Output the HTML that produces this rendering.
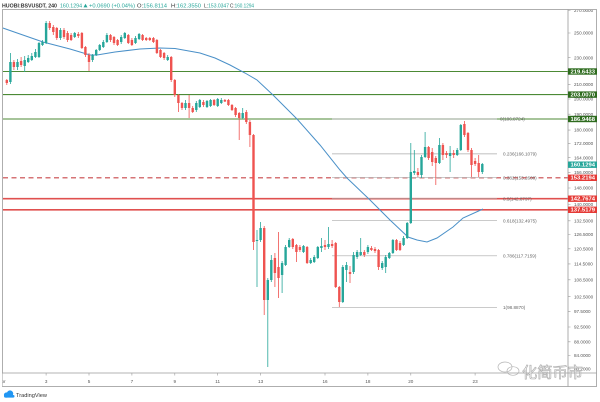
<!DOCTYPE html>
<html><head><meta charset="utf-8"><style>
html,body{margin:0;padding:0;background:#fff;}
svg{display:block;font-family:"Liberation Sans",sans-serif;}
</style></head><body>
<svg width="600" height="402" viewBox="0 0 600 402" xmlns="http://www.w3.org/2000/svg">
<defs><clipPath id="plot"><rect x="3" y="10" width="565" height="363"/></clipPath>
<clipPath id="axis"><rect x="568" y="10" width="29" height="363"/></clipPath></defs>
<rect width="600" height="402" fill="#fff"/>

<!-- header -->
<text x="2" y="7.6" font-size="5.2" font-weight="bold" fill="#333" textLength="55" lengthAdjust="spacingAndGlyphs">HUOBI:BSVUSDT, 240</text>
<text x="60" y="7.6" font-size="5.2" fill="#26a69a" textLength="22" lengthAdjust="spacingAndGlyphs">160.1294</text>
<polygon points="83.5,7.4 87.5,7.4 85.5,3.8" fill="#26a69a"/>
<text x="89" y="7.6" font-size="5.2" fill="#26a69a" textLength="46" lengthAdjust="spacingAndGlyphs">+0.0690 (+0.04%)</text>
<text x="137" y="7.6" font-size="5.2" fill="#26a69a" textLength="30" lengthAdjust="spacingAndGlyphs"><tspan fill="#333">O:</tspan>156.8114</text>
<text x="171" y="7.6" font-size="5.2" fill="#26a69a" textLength="30" lengthAdjust="spacingAndGlyphs"><tspan fill="#333">H:</tspan>162.3550</text>
<text x="204" y="7.6" font-size="5.2" fill="#26a69a" textLength="25" lengthAdjust="spacingAndGlyphs"><tspan fill="#333">L:</tspan>153.0347</text>
<text x="230" y="7.6" font-size="5.2" fill="#26a69a" textLength="24" lengthAdjust="spacingAndGlyphs"><tspan fill="#333">C:</tspan>160.1294</text>

<g clip-path="url(#plot)">
<!-- horizontal levels -->
<g stroke="#4c8a35" stroke-width="1.1">
<line x1="3" x2="568" y1="71.5" y2="71.5"/>
<line x1="3" x2="568" y1="94.6" y2="94.6"/>
<line x1="3" x2="568" y1="119" y2="119"/>
</g>
<g stroke="#e0504f" stroke-width="1.6">
<line x1="3" x2="568" y1="198.7" y2="198.7"/>
<line x1="3" x2="568" y1="209.8" y2="209.8"/>
</g>
<line x1="3" x2="568" y1="177.8" y2="177.8" stroke="#c9474a" stroke-width="1.2" stroke-dasharray="5,3.5"/>

<!-- fib -->
<g stroke="#aaa" stroke-width="0.7">
<line x1="332" x2="497" y1="119" y2="119"/>
<line x1="332" x2="497" y1="153.9" y2="153.9"/>
<line x1="332" x2="497" y1="177.7" y2="177.7"/>
<line x1="332" x2="497" y1="198.7" y2="198.7"/>
<line x1="332" x2="497" y1="220.7" y2="220.7"/>
<line x1="332" x2="497" y1="255.8" y2="255.8"/>
<line x1="332" x2="497" y1="307.3" y2="307.3"/>
</g>
<g font-size="4.6" fill="#666">
<text x="500" y="120.6">0(186.8724)</text>
<text x="503" y="155.5">0.236(166.1079)</text>
<text x="503" y="179.3">0.382(153.2600)</text>
<text x="503" y="200.3">0.5(142.8797)</text>
<text x="503" y="222.3">0.618(132.4975)</text>
<text x="503" y="257.4">0.786(117.7159)</text>
<text x="503" y="308.9">1(98.8870)</text>
</g>

<!-- MA -->
<polyline fill="none" stroke="#4a90c8" stroke-width="1" points="0,27 20,34 43,42 70,49 90,55 97,55 115,52 140,49 160,48 175,48.5 200,53 215,58 230,65 245,73 257,80 273,95 297,119 320,145 340,170 347,178 370,200 390,220 408,237 417,240 427,242 437,238 453,227 463,218 483,209"/>

<!-- candles -->
<path stroke="#26a69a" stroke-width="0.8" fill="none" d="M10.4 53V84M17.5 59V70M24.7 56V72M28.2 55V63M31.8 53V61M35.4 49V58M39 42V58M42.5 40V46M46.1 21V44M60.4 28V40M74.7 32V38M92.6 54V62M96.2 49V56M99.7 44V51M103.3 40V48M106.9 33V43M121.2 35V44M124.8 32V39M135.5 36V44M139.1 33V40M167.7 55V61M185.5 100V110M196.3 101V112M199.8 99V108M207 100V108M210.6 99V107M217.7 98V107M221.3 98V104M242.7 108V119M257 230V287M260.6 222V242M267.8 278V367M271.3 255V282M282.1 261V293M285.6 245V266M289.2 238V248M303.5 245V253M310.7 258V264M314.2 255V263M317.8 246V259M321.4 238V252M328.5 227V249M342.8 265V303M346.4 262V282M353.6 252V274M357.1 250V259M360.7 238V256M367.9 245V254M382.2 261V270M385.7 255V273M389.3 252V259M392.9 239V254M403.6 236V246M407.2 222V239M410.8 143V224M414.3 150V175M421.5 155V178M425.1 132V158M439.4 138V164M450.1 146V172M457.2 148V156M460.8 124V151M482.3 163V174"/>
<path fill="#26a69a" d="M9.2 62h2.4v20h-2.4zM16.3 62h2.4v5h-2.4zM23.5 60h2.4v6h-2.4zM27 58h2.4v4h-2.4zM30.6 56h2.4v4h-2.4zM34.2 52h2.4v5h-2.4zM37.8 43h2.4v14h-2.4zM41.3 42h2.4v3h-2.4zM44.9 23h2.4v20h-2.4zM59.2 30h2.4v8h-2.4zM73.5 33h2.4v4h-2.4zM91.4 55h2.4v5h-2.4zM95 50h2.4v5h-2.4zM98.5 45h2.4v5h-2.4zM102.1 42h2.4v5h-2.4zM105.7 35h2.4v7h-2.4zM120 37h2.4v5h-2.4zM123.6 33h2.4v5h-2.4zM134.3 38h2.4v5h-2.4zM137.9 34h2.4v5h-2.4zM166.5 57h2.4v3h-2.4zM184.3 103h2.4v5h-2.4zM195.1 103h2.4v7h-2.4zM198.6 100h2.4v7h-2.4zM205.8 101h2.4v6h-2.4zM209.4 100h2.4v6h-2.4zM216.5 99h2.4v7h-2.4zM220.1 100h2.4v3h-2.4zM241.5 113h2.4v5h-2.4zM255.8 240h2.4v1h-2.4zM259.4 228h2.4v12h-2.4zM266.6 280h2.4v20h-2.4zM270.1 260h2.4v20h-2.4zM280.9 263h2.4v12h-2.4zM284.4 247h2.4v18h-2.4zM288 240h2.4v7h-2.4zM302.3 246h2.4v6h-2.4zM309.5 260h2.4v3h-2.4zM313 257h2.4v5h-2.4zM316.6 247h2.4v11h-2.4zM320.2 246h2.4v2h-2.4zM327.3 244h2.4v3h-2.4zM341.6 267h2.4v35h-2.4zM345.2 265h2.4v5h-2.4zM352.4 255h2.4v17h-2.4zM355.9 252h2.4v5h-2.4zM359.5 252h2.4v3h-2.4zM366.7 247h2.4v5h-2.4zM381 263h2.4v5h-2.4zM384.5 257h2.4v10h-2.4zM388.1 253h2.4v5h-2.4zM391.7 240h2.4v13h-2.4zM402.4 238h2.4v7h-2.4zM406 223h2.4v15h-2.4zM409.6 172h2.4v51h-2.4zM413.1 171h2.4v2h-2.4zM420.3 157h2.4v18h-2.4zM423.9 147h2.4v10h-2.4zM438.2 145h2.4v18h-2.4zM448.9 153h2.4v3h-2.4zM456 150h2.4v5h-2.4zM459.6 125h2.4v25h-2.4zM481.1 164h2.4v8h-2.4z"/>
<path stroke="#ef5350" stroke-width="0.8" fill="none" d="M6.8 79V85M13.9 60V70M21.1 57V67M49.7 21V30M53.3 25V35M56.8 27V40M64 28V39M67.6 31V42M71.1 33V41M78.3 32V38M81.9 32V49M85.4 46V57M89 53V71M110.5 34V42M114 36V45M117.6 39V46M128.3 34V44M131.9 38V46M142.6 34V41M146.2 37V41M149.8 37V41M153.4 37V43M156.9 39V54M160.5 49V58M164.1 52V60M171.2 56V82M174.8 79V97M178.4 94V112M182 102V110M189.1 95V118M192.7 106V113M203.4 100V107M214.1 99V106M224.9 99V102M228.4 99V106M232 104V111M235.6 107V117M239.2 112V140M246.3 110V124M249.9 120V147M253.5 134V250M264.2 226V315M274.9 253V287M278.5 232V298M292.8 238V249M296.4 244V262M299.9 245V252M307.1 246V264M325 240V250M332.1 240V248M335.7 242V288M339.3 286V307M350 266V283M364.3 250V257M371.4 246V251M375 247V253M378.6 249V270M396.5 239V251M400 241V251M417.9 168V177M428.6 146V160M432.2 148V166M435.8 156V185M442.9 143V160M446.5 151V158M453.7 150V158M464.4 121V137M468 132V152M471.5 148V177M475.1 158V166M478.7 155V177"/>
<path fill="#ef5350" d="M5.6 80h2.4v3h-2.4zM12.7 62h2.4v5h-2.4zM19.9 61h2.4v4h-2.4zM48.5 23h2.4v5h-2.4zM52.1 27h2.4v5h-2.4zM55.6 28h2.4v10h-2.4zM62.8 30h2.4v7h-2.4zM66.4 33h2.4v7h-2.4zM69.9 35h2.4v5h-2.4zM77.1 34h2.4v2h-2.4zM80.7 33h2.4v15h-2.4zM84.2 47h2.4v8h-2.4zM87.8 55h2.4v7h-2.4zM109.3 35h2.4v5h-2.4zM112.8 37h2.4v6h-2.4zM116.4 40h2.4v5h-2.4zM127.1 35h2.4v8h-2.4zM130.7 40h2.4v5h-2.4zM141.4 35h2.4v5h-2.4zM145 38h2.4v2h-2.4zM148.6 38h2.4v2h-2.4zM152.2 38h2.4v4h-2.4zM155.7 40h2.4v13h-2.4zM159.3 50h2.4v7h-2.4zM162.9 53h2.4v5h-2.4zM170 57h2.4v23h-2.4zM173.6 80h2.4v15h-2.4zM177.2 95h2.4v8h-2.4zM180.8 103h2.4v5h-2.4zM187.9 103h2.4v5h-2.4zM191.5 108h2.4v4h-2.4zM202.2 102h2.4v3h-2.4zM212.9 100h2.4v5h-2.4zM223.7 100h2.4v1.5h-2.4zM227.2 100h2.4v5h-2.4zM230.8 105h2.4v5h-2.4zM234.4 108h2.4v7h-2.4zM238 113h2.4v5h-2.4zM245.1 112h2.4v10h-2.4zM248.7 122h2.4v13h-2.4zM252.3 135h2.4v107h-2.4zM263 228h2.4v72h-2.4zM273.7 258h2.4v15h-2.4zM277.3 267h2.4v11h-2.4zM291.6 239h2.4v8h-2.4zM295.2 245h2.4v7h-2.4zM298.7 247h2.4v3h-2.4zM305.9 247h2.4v16h-2.4zM323.8 245h2.4v2h-2.4zM330.9 244h2.4v2h-2.4zM334.5 243h2.4v44h-2.4zM338.1 287h2.4v15h-2.4zM348.8 272h2.4v2h-2.4zM363.1 252h2.4v3h-2.4zM370.2 248h2.4v2h-2.4zM373.8 249h2.4v2h-2.4zM377.4 250h2.4v17h-2.4zM395.3 240h2.4v10h-2.4zM398.8 243h2.4v7h-2.4zM416.7 172h2.4v3h-2.4zM427.4 147h2.4v11h-2.4zM431 152h2.4v10h-2.4zM434.6 158h2.4v5h-2.4zM441.7 145h2.4v10h-2.4zM445.3 153h2.4v2h-2.4zM452.5 153h2.4v2h-2.4zM463.2 124h2.4v11h-2.4zM466.8 133h2.4v17h-2.4zM470.3 150h2.4v15h-2.4zM473.9 161h2.4v3h-2.4zM477.5 163h2.4v9h-2.4z"/>
</g>

<!-- frame -->
<rect x="2.5" y="9.5" width="594" height="377" fill="none" stroke="#9a9a9a" stroke-width="0.8"/>
<line x1="568" x2="568" y1="9.5" y2="386.5" stroke="#9a9a9a" stroke-width="0.8"/>
<line x1="2.5" x2="596.5" y1="373" y2="373" stroke="#9a9a9a" stroke-width="0.8"/>

<!-- right axis labels -->
<g clip-path="url(#axis)">
<g stroke="#9a9a9a" stroke-width="0.6">
<path d="M568 10.2h2.5M568 33h2.5M568 57.7h2.5M568 84.6h2.5M568 99h2.5M568 114.2h2.5M568 130.1h2.5M568 143.6h2.5M568 157.7h2.5M568 172.4h2.5M568 188h2.5M568 204.5h2.5M568 220.8h2.5M568 234.5h2.5M568 248.8h2.5M568 263.9h2.5M568 279.8h2.5M568 296.7h2.5M568 311.4h2.5M568 327h2.5M568 341.8h2.5M568 355.5h2.5M568 369h2.5"/>
</g>
<g font-size="4.6" fill="#555">
<text x="574" y="11.8">270.0000</text>
<text x="574" y="34.6">250.0000</text>
<text x="574" y="59.3">230.0000</text>
<text x="574" y="86.2">210.0000</text>
<text x="574" y="100.6">200.0000</text>
<text x="574" y="115.8">190.0000</text>
<text x="574" y="131.7">180.0000</text>
<text x="574" y="145.2">172.0000</text>
<text x="574" y="159.3">164.0000</text>
<text x="574" y="174">156.0000</text>
<text x="574" y="189.6">148.0000</text>
<text x="574" y="206.1">140.0000</text>
<text x="574" y="222.4">132.5000</text>
<text x="574" y="236.1">126.5000</text>
<text x="574" y="250.4">120.5000</text>
<text x="574" y="265.5">114.5000</text>
<text x="574" y="281.4">108.5000</text>
<text x="574" y="298.3">102.5000</text>
<text x="574" y="313">97.5000</text>
<text x="574" y="328.6">92.5000</text>
<text x="574" y="343.4">88.0000</text>
<text x="574" y="357.1">84.0000</text>
<text x="574" y="370.6">80.2000</text>
</g>
</g>

<!-- price boxes -->
<g font-size="5" font-weight="bold" fill="#fff">
<rect x="568" y="68.3" width="29" height="6.4" fill="#2e6b1e"/>
<text x="570.5" y="73.3" textLength="24.5" lengthAdjust="spacingAndGlyphs">219.6433</text>
<rect x="568" y="91.4" width="29" height="6.4" fill="#2e6b1e"/>
<text x="570.5" y="96.4" textLength="24.5" lengthAdjust="spacingAndGlyphs">203.0070</text>
<rect x="568" y="115.8" width="29" height="6.4" fill="#2e6b1e"/>
<text x="570.5" y="120.8" textLength="24.5" lengthAdjust="spacingAndGlyphs">186.9468</text>
<rect x="568" y="161.5" width="29" height="6.4" fill="#26a69a"/>
<text x="570.5" y="166.5" textLength="24.5" lengthAdjust="spacingAndGlyphs">160.1294</text>
<rect x="568" y="174.6" width="29" height="6.4" fill="#e53935"/>
<text x="570.5" y="179.6" textLength="24.5" lengthAdjust="spacingAndGlyphs">153.2194</text>
<rect x="568" y="195.5" width="29" height="6.4" fill="#e53935"/>
<text x="570.5" y="200.5" textLength="24.5" lengthAdjust="spacingAndGlyphs">142.7674</text>
<rect x="568" y="206.6" width="29" height="6.4" fill="#e53935"/>
<text x="570.5" y="211.6" textLength="24.5" lengthAdjust="spacingAndGlyphs">137.5179</text>
</g>

<!-- bottom axis -->
<path stroke="#9a9a9a" stroke-width="0.6" d="M46.1 373v2.5M89 373v2.5M131.9 373v2.5M174.8 373v2.5M217.7 373v2.5M260.6 373v2.5M325 373v2.5M367.9 373v2.5M410.8 373v2.5M475.1 373v2.5"/>
<g font-size="4.6" fill="#555" text-anchor="middle">
<text x="2" y="383">Apr</text>
<text x="46.1" y="383">3</text>
<text x="89" y="383">5</text>
<text x="131.9" y="383">7</text>
<text x="174.8" y="383">9</text>
<text x="217.7" y="383">11</text>
<text x="260.6" y="383">13</text>
<text x="325" y="383">16</text>
<text x="367.9" y="383">18</text>
<text x="410.8" y="383">20</text>
<text x="475.1" y="383">23</text>
</g>
<rect x="0" y="373.5" width="2.4" height="12.5" fill="#fff"/>

<!-- watermark -->
<g fill="none" stroke="#b5b5b5" stroke-width="0.7">
<ellipse cx="505" cy="367" rx="7" ry="5"/>
<ellipse cx="513" cy="371" rx="6" ry="4.3"/>
</g>
<text x="522" y="377.5" font-size="15" font-family="'Noto Sans CJK SC','WenQuanYi Zen Hei',sans-serif" fill="#fff" fill-opacity="0.6" stroke="#a8a8a8" stroke-width="0.6" textLength="61" lengthAdjust="spacingAndGlyphs">化简币市</text>

<!-- TradingView logo -->
<g fill="#2196f3">
<circle cx="6.5" cy="395" r="2.6"/>
<circle cx="10" cy="393.6" r="3.2"/>
<rect x="4" y="395" width="10.5" height="2.6" rx="1.2"/>
</g>
<text x="16" y="397" font-size="5.5" fill="#333" textLength="31" lengthAdjust="spacingAndGlyphs">TradingView</text>
</svg>
</body></html>
